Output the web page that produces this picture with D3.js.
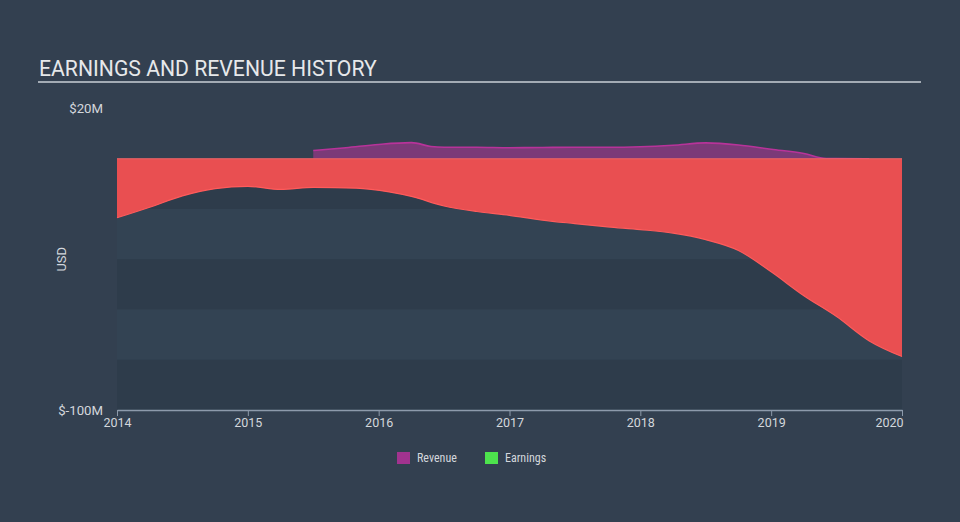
<!DOCTYPE html>
<html><head><meta charset="utf-8">
<script src="https://cdn.jsdelivr.net/npm/d3@7"></script>
<style>
html,body{margin:0;padding:0;background:#334050;}
svg{display:block;font-family:Roboto,"Noto Sans",sans-serif;}
</style></head><body>
<svg id="c" width="960" height="522"></svg>
<script>
const title = "EARNINGS AND REVENUE HISTORY";
const xTickYears = [2014, 2015, 2016, 2017, 2018, 2019, 2020];
const yTickValues = [20, -100];
const yTickLabels = ["$20M", "$-100M"];
const yAxisLabel = "USD";
const legendLabels = ["Revenue", "Earnings"];
const legendColors = ["#a2338f", "#4de34d"];

const revenueDates = [2015.5, 2015.75, 2016.0, 2016.25, 2016.4, 2016.5, 2016.75, 2017.0, 2017.25, 2017.5, 2017.75, 2018.0, 2018.25, 2018.5, 2018.75, 2019.0, 2019.25, 2019.42, 2019.75];
const revenueValues = [3.3, 4.4, 5.7, 6.4, 4.9, 4.6, 4.6, 4.4, 4.5, 4.6, 4.6, 4.8, 5.4, 6.3, 5.5, 3.8, 2.1, 0.1, 0.0];

const earningsDates = [2014.0, 2014.25, 2014.5, 2014.75, 2015.0, 2015.25, 2015.5, 2015.83, 2016.08, 2016.25, 2016.5, 2016.75, 2017.0, 2017.25, 2017.5, 2017.75, 2018.0, 2018.25, 2018.5, 2018.75, 2019.0, 2019.25, 2019.5, 2019.75, 2020.0];
const earningsValues = [-23.5, -19.3, -14.8, -11.9, -11.0, -12.2, -11.4, -11.7, -13.2, -15.0, -18.8, -21.0, -22.5, -24.4, -25.8, -27.1, -28.2, -29.6, -32.2, -36.5, -45.0, -54.5, -62.8, -72.5, -78.7];

const svg = d3.select("#c");
const x = d3.scaleLinear().domain([2014, 2020]).range([117, 902]);
const y = d3.scaleLinear().domain([-100, 20]).range([410, 108.5]);

// title
svg.append("text").attr("x", 39).attr("y", 76).attr("fill", "#e6e8ea")
  .attr("font-size", 21.2).text(title);
svg.append("line").attr("x1", 38).attr("x2", 921).attr("y1", 82).attr("y2", 82)
  .attr("stroke", "#a3abb4").attr("stroke-width", 2);

// bands
const bandEdges = d3.range(0, -100, -20);
bandEdges.forEach((v, i) => {
  svg.append("rect").attr("x", x(2014)).attr("width", x(2020) - x(2014))
    .attr("y", y(v)).attr("height", y(v - 20) - y(v))
    .attr("fill", i % 2 === 0 ? "#2e3c4b" : "#334353");
});

const rev = revenueDates.map((d, i) => ({x: d, v: revenueValues[i]}));
const earn = earningsDates.map((d, i) => ({x: d, v: earningsValues[i]}));
const curve = d3.curveMonotoneX;

// revenue area
svg.append("path").datum(rev)
  .attr("d", d3.area().x(d => x(d.x)).y0(y(0)).y1(d => y(d.v)).curve(curve))
  .attr("fill", "#7b3a78");
svg.append("path").datum(rev)
  .attr("d", d3.line().x(d => x(d.x)).y(d => y(d.v)).curve(curve))
  .attr("fill", "none").attr("stroke", "#b8339a").attr("stroke-width", 1.6);

// earnings area
svg.append("path").datum(earn)
  .attr("d", d3.area().x(d => x(d.x)).y0(y(0)).y1(d => y(d.v)).curve(curve))
  .attr("fill", "#e94f51");
svg.append("path").datum(earn)
  .attr("d", d3.line().x(d => x(d.x)).y(d => y(d.v)).curve(curve))
  .attr("fill", "none").attr("stroke", "#ff5b5b").attr("stroke-width", 1.2);
svg.append("line").attr("x1", x(2014)).attr("x2", x(2020)).attr("y1", y(0)).attr("y2", y(0))
  .attr("stroke", "#f06668").attr("stroke-width", 1);

// x axis
const xAxis = d3.axisBottom(x).tickValues(xTickYears).tickFormat(d3.format("d")).tickSize(6).tickSizeOuter(0);
const gx = svg.append("g").attr("transform", `translate(0,${y(-100)})`).call(xAxis);
gx.select(".domain").attr("stroke", "#8d9aab").attr("stroke-width", 1.5);
gx.selectAll(".tick line").attr("stroke", "#8d9aab");
gx.selectAll(".tick text").attr("fill", "#d3d7dc").attr("font-size", 12.5)
  .attr("font-family", "Roboto, sans-serif").attr("dy", "0.6em")
  .attr("text-anchor", d => d === 2020 ? "end" : "middle")
  .attr("dx", d => d === 2020 ? 1 : 0);

// y labels
yTickValues.forEach((v, i) => {
  svg.append("text").attr("x", 103).attr("y", y(v)).attr("dy", "0.35em")
    .attr("text-anchor", "end").attr("fill", "#d3d7dc").attr("font-size", 13.2)
    .text(yTickLabels[i]);
});
svg.append("text").attr("transform", `translate(66,${y(-40)}) rotate(-90)`)
  .attr("text-anchor", "middle").attr("fill", "#d3d7dc").attr("font-size", 13)
  .text(yAxisLabel);

// legend
const lx = [397, 485];
legendLabels.forEach((l, i) => {
  svg.append("rect").attr("x", lx[i]).attr("y", 452).attr("width", 13).attr("height", 12)
    .attr("fill", legendColors[i]);
  svg.append("text").attr("x", lx[i] + 20).attr("y", 458).attr("dy", "0.35em")
    .attr("fill", "#d3d7dc").attr("font-size", 12).attr("font-stretch", "condensed").text(l);
});
</script>
</body></html>
